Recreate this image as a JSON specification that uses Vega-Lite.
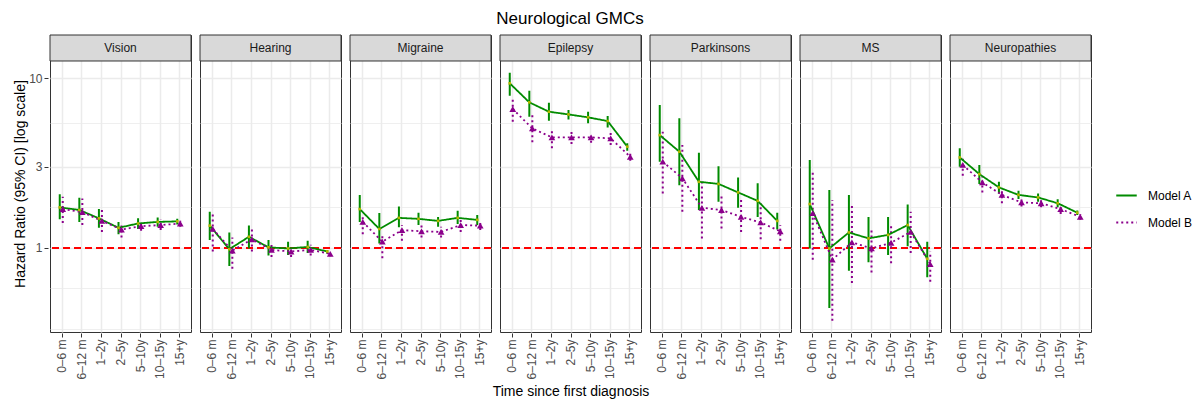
{
  "$schema": "https://vega.github.io/schema/vega-lite/v6.json",
  "padding": {"left": 13, "top": 10, "right": 5, "bottom": 3},
  "title": {"text": "Neurological GMCs", "fontSize": 17, "fontWeight": "normal", "color": "#000000", "anchor": "start", "frame": "group", "align": "center", "dx": 520, "offset": 6},
  "data": {"name": "hr"},
  "datasets": {
    "hr": [
      {"panel": "Vision", "time": "0–6 m", "t": 1, "model": "Model A", "hr": 1.73, "lo": 1.47, "hi": 2.07},
      {"panel": "Vision", "time": "6–12 m", "t": 2, "model": "Model A", "hr": 1.67, "lo": 1.42, "hi": 1.97},
      {"panel": "Vision", "time": "1–2y", "t": 3, "model": "Model A", "hr": 1.49, "lo": 1.31, "hi": 1.69},
      {"panel": "Vision", "time": "2–5y", "t": 4, "model": "Model A", "hr": 1.31, "lo": 1.2, "hi": 1.42},
      {"panel": "Vision", "time": "5–10y", "t": 5, "model": "Model A", "hr": 1.39, "lo": 1.29, "hi": 1.49},
      {"panel": "Vision", "time": "10–15y", "t": 6, "model": "Model A", "hr": 1.42, "lo": 1.33, "hi": 1.51},
      {"panel": "Vision", "time": "15+y", "t": 7, "model": "Model A", "hr": 1.43, "lo": 1.37, "hi": 1.48},
      {"panel": "Vision", "time": "0–6 m", "t": 1, "model": "Model B", "hr": 1.69, "lo": 1.4, "hi": 2.0},
      {"panel": "Vision", "time": "6–12 m", "t": 2, "model": "Model B", "hr": 1.62, "lo": 1.36, "hi": 1.95},
      {"panel": "Vision", "time": "1–2y", "t": 3, "model": "Model B", "hr": 1.44, "lo": 1.24, "hi": 1.67},
      {"panel": "Vision", "time": "2–5y", "t": 4, "model": "Model B", "hr": 1.28, "lo": 1.15, "hi": 1.4},
      {"panel": "Vision", "time": "5–10y", "t": 5, "model": "Model B", "hr": 1.34, "lo": 1.26, "hi": 1.42},
      {"panel": "Vision", "time": "10–15y", "t": 6, "model": "Model B", "hr": 1.36, "lo": 1.27, "hi": 1.46},
      {"panel": "Vision", "time": "15+y", "t": 7, "model": "Model B", "hr": 1.39, "lo": 1.33, "hi": 1.44},

      {"panel": "Hearing", "time": "0–6 m", "t": 1, "model": "Model A", "hr": 1.35, "lo": 1.11, "hi": 1.63},
      {"panel": "Hearing", "time": "6–12 m", "t": 2, "model": "Model A", "hr": 0.98, "lo": 0.78, "hi": 1.23},
      {"panel": "Hearing", "time": "1–2y", "t": 3, "model": "Model A", "hr": 1.16, "lo": 0.99, "hi": 1.35},
      {"panel": "Hearing", "time": "2–5y", "t": 4, "model": "Model A", "hr": 1.005, "lo": 0.9, "hi": 1.11},
      {"panel": "Hearing", "time": "5–10y", "t": 5, "model": "Model A", "hr": 0.99, "lo": 0.905, "hi": 1.085},
      {"panel": "Hearing", "time": "10–15y", "t": 6, "model": "Model A", "hr": 1.01, "lo": 0.93, "hi": 1.1},
      {"panel": "Hearing", "time": "15+y", "t": 7, "model": "Model A", "hr": 0.95, "lo": 0.92, "hi": 0.97},
      {"panel": "Hearing", "time": "0–6 m", "t": 1, "model": "Model B", "hr": 1.29, "lo": 0.95, "hi": 1.61},
      {"panel": "Hearing", "time": "6–12 m", "t": 2, "model": "Model B", "hr": 0.96, "lo": 0.75, "hi": 1.15},
      {"panel": "Hearing", "time": "1–2y", "t": 3, "model": "Model B", "hr": 1.12, "lo": 0.95, "hi": 1.29},
      {"panel": "Hearing", "time": "2–5y", "t": 4, "model": "Model B", "hr": 0.97, "lo": 0.88, "hi": 1.04},
      {"panel": "Hearing", "time": "5–10y", "t": 5, "model": "Model B", "hr": 0.95, "lo": 0.88, "hi": 1.01},
      {"panel": "Hearing", "time": "10–15y", "t": 6, "model": "Model B", "hr": 0.97, "lo": 0.9, "hi": 1.04},
      {"panel": "Hearing", "time": "15+y", "t": 7, "model": "Model B", "hr": 0.92, "lo": 0.89, "hi": 0.95},

      {"panel": "Migraine", "time": "0–6 m", "t": 1, "model": "Model A", "hr": 1.69, "lo": 1.42, "hi": 2.05},
      {"panel": "Migraine", "time": "6–12 m", "t": 2, "model": "Model A", "hr": 1.29, "lo": 1.06, "hi": 1.6},
      {"panel": "Migraine", "time": "1–2y", "t": 3, "model": "Model A", "hr": 1.5, "lo": 1.32, "hi": 1.75},
      {"panel": "Migraine", "time": "2–5y", "t": 4, "model": "Model A", "hr": 1.48, "lo": 1.36, "hi": 1.61},
      {"panel": "Migraine", "time": "5–10y", "t": 5, "model": "Model A", "hr": 1.44, "lo": 1.33, "hi": 1.52},
      {"panel": "Migraine", "time": "10–15y", "t": 6, "model": "Model A", "hr": 1.5, "lo": 1.38, "hi": 1.65},
      {"panel": "Migraine", "time": "15+y", "t": 7, "model": "Model A", "hr": 1.46, "lo": 1.36, "hi": 1.56},
      {"panel": "Migraine", "time": "0–6 m", "t": 1, "model": "Model B", "hr": 1.42, "lo": 1.2, "hi": 1.55},
      {"panel": "Migraine", "time": "6–12 m", "t": 2, "model": "Model B", "hr": 1.085, "lo": 0.865, "hi": 1.18},
      {"panel": "Migraine", "time": "1–2y", "t": 3, "model": "Model B", "hr": 1.27, "lo": 1.1, "hi": 1.36},
      {"panel": "Migraine", "time": "2–5y", "t": 4, "model": "Model B", "hr": 1.25, "lo": 1.15, "hi": 1.36},
      {"panel": "Migraine", "time": "5–10y", "t": 5, "model": "Model B", "hr": 1.24, "lo": 1.15, "hi": 1.33},
      {"panel": "Migraine", "time": "10–15y", "t": 6, "model": "Model B", "hr": 1.36, "lo": 1.24, "hi": 1.46},
      {"panel": "Migraine", "time": "15+y", "t": 7, "model": "Model B", "hr": 1.35, "lo": 1.27, "hi": 1.42},

      {"panel": "Epilepsy", "time": "0–6 m", "t": 1, "model": "Model A", "hr": 9.34, "lo": 7.89, "hi": 10.79},
      {"panel": "Epilepsy", "time": "6–12 m", "t": 2, "model": "Model A", "hr": 7.21, "lo": 5.93, "hi": 8.45},
      {"panel": "Epilepsy", "time": "1–2y", "t": 3, "model": "Model A", "hr": 6.35, "lo": 5.62, "hi": 7.18},
      {"panel": "Epilepsy", "time": "2–5y", "t": 4, "model": "Model A", "hr": 6.12, "lo": 5.72, "hi": 6.5},
      {"panel": "Epilepsy", "time": "5–10y", "t": 5, "model": "Model A", "hr": 5.88, "lo": 5.42, "hi": 6.35},
      {"panel": "Epilepsy", "time": "10–15y", "t": 6, "model": "Model A", "hr": 5.59, "lo": 5.13, "hi": 5.99},
      {"panel": "Epilepsy", "time": "15+y", "t": 7, "model": "Model A", "hr": 3.95, "lo": 3.74, "hi": 4.13},
      {"panel": "Epilepsy", "time": "0–6 m", "t": 1, "model": "Model B", "hr": 6.59, "lo": 5.54, "hi": 7.61},
      {"panel": "Epilepsy", "time": "6–12 m", "t": 2, "model": "Model B", "hr": 5.06, "lo": 4.19, "hi": 6.07},
      {"panel": "Epilepsy", "time": "1–2y", "t": 3, "model": "Model B", "hr": 4.48, "lo": 3.86, "hi": 5.06},
      {"panel": "Epilepsy", "time": "2–5y", "t": 4, "model": "Model B", "hr": 4.48, "lo": 4.09, "hi": 4.84},
      {"panel": "Epilepsy", "time": "5–10y", "t": 5, "model": "Model B", "hr": 4.48, "lo": 4.17, "hi": 4.77},
      {"panel": "Epilepsy", "time": "10–15y", "t": 6, "model": "Model B", "hr": 4.42, "lo": 4.04, "hi": 4.77},
      {"panel": "Epilepsy", "time": "15+y", "t": 7, "model": "Model B", "hr": 3.44, "lo": 3.26, "hi": 3.64},

      {"panel": "Parkinsons", "time": "0–6 m", "t": 1, "model": "Model A", "hr": 4.62, "lo": 3.22, "hi": 6.95},
      {"panel": "Parkinsons", "time": "6–12 m", "t": 2, "model": "Model A", "hr": 3.69, "lo": 2.34, "hi": 5.8},
      {"panel": "Parkinsons", "time": "1–2y", "t": 3, "model": "Model A", "hr": 2.45, "lo": 1.67, "hi": 3.64},
      {"panel": "Parkinsons", "time": "2–5y", "t": 4, "model": "Model A", "hr": 2.38, "lo": 1.87, "hi": 3.03},
      {"panel": "Parkinsons", "time": "5–10y", "t": 5, "model": "Model A", "hr": 2.12, "lo": 1.72, "hi": 2.6},
      {"panel": "Parkinsons", "time": "10–15y", "t": 6, "model": "Model A", "hr": 1.89, "lo": 1.52, "hi": 2.4},
      {"panel": "Parkinsons", "time": "15+y", "t": 7, "model": "Model A", "hr": 1.44, "lo": 1.28, "hi": 1.61},
      {"panel": "Parkinsons", "time": "0–6 m", "t": 1, "model": "Model B", "hr": 3.22, "lo": 2.09, "hi": 4.84},
      {"panel": "Parkinsons", "time": "6–12 m", "t": 2, "model": "Model B", "hr": 2.57, "lo": 1.63, "hi": 4.04},
      {"panel": "Parkinsons", "time": "1–2y", "t": 3, "model": "Model B", "hr": 1.72, "lo": 1.135, "hi": 2.45},
      {"panel": "Parkinsons", "time": "2–5y", "t": 4, "model": "Model B", "hr": 1.67, "lo": 1.3, "hi": 2.09},
      {"panel": "Parkinsons", "time": "5–10y", "t": 5, "model": "Model B", "hr": 1.52, "lo": 1.24, "hi": 1.91},
      {"panel": "Parkinsons", "time": "10–15y", "t": 6, "model": "Model B", "hr": 1.41, "lo": 1.12, "hi": 1.83},
      {"panel": "Parkinsons", "time": "15+y", "t": 7, "model": "Model B", "hr": 1.25, "lo": 1.1, "hi": 1.36},

      {"panel": "MS", "time": "0–6 m", "t": 1, "model": "Model A", "hr": 1.81, "lo": 0.99, "hi": 3.29},
      {"panel": "MS", "time": "6–12 m", "t": 2, "model": "Model A", "hr": 0.99, "lo": 0.44, "hi": 2.19},
      {"panel": "MS", "time": "1–2y", "t": 3, "model": "Model A", "hr": 1.23, "lo": 0.73, "hi": 2.05},
      {"panel": "MS", "time": "2–5y", "t": 4, "model": "Model A", "hr": 1.135, "lo": 0.82, "hi": 1.52},
      {"panel": "MS", "time": "5–10y", "t": 5, "model": "Model A", "hr": 1.19, "lo": 0.905, "hi": 1.52},
      {"panel": "MS", "time": "10–15y", "t": 6, "model": "Model A", "hr": 1.36, "lo": 1.02, "hi": 1.8},
      {"panel": "MS", "time": "15+y", "t": 7, "model": "Model A", "hr": 0.86, "lo": 0.67, "hi": 1.085},
      {"panel": "MS", "time": "0–6 m", "t": 1, "model": "Model B", "hr": 1.6, "lo": 0.85, "hi": 2.87},
      {"panel": "MS", "time": "6–12 m", "t": 2, "model": "Model B", "hr": 0.85, "lo": 0.37, "hi": 1.91},
      {"panel": "MS", "time": "1–2y", "t": 3, "model": "Model B", "hr": 1.075, "lo": 0.62, "hi": 1.79},
      {"panel": "MS", "time": "2–5y", "t": 4, "model": "Model B", "hr": 0.99, "lo": 0.715, "hi": 1.27},
      {"panel": "MS", "time": "5–10y", "t": 5, "model": "Model B", "hr": 1.07, "lo": 0.81, "hi": 1.36},
      {"panel": "MS", "time": "10–15y", "t": 6, "model": "Model B", "hr": 1.24, "lo": 0.93, "hi": 1.63},
      {"panel": "MS", "time": "15+y", "t": 7, "model": "Model B", "hr": 0.8, "lo": 0.63, "hi": 0.95},

      {"panel": "Neuropathies", "time": "0–6 m", "t": 1, "model": "Model A", "hr": 3.41, "lo": 3.01, "hi": 3.86},
      {"panel": "Neuropathies", "time": "6–12 m", "t": 2, "model": "Model A", "hr": 2.72, "lo": 2.38, "hi": 3.08},
      {"panel": "Neuropathies", "time": "1–2y", "t": 3, "model": "Model A", "hr": 2.27, "lo": 2.09, "hi": 2.45},
      {"panel": "Neuropathies", "time": "2–5y", "t": 4, "model": "Model A", "hr": 2.05, "lo": 1.94, "hi": 2.17},
      {"panel": "Neuropathies", "time": "5–10y", "t": 5, "model": "Model A", "hr": 1.98, "lo": 1.87, "hi": 2.09},
      {"panel": "Neuropathies", "time": "10–15y", "t": 6, "model": "Model A", "hr": 1.83, "lo": 1.73, "hi": 1.93},
      {"panel": "Neuropathies", "time": "15+y", "t": 7, "model": "Model A", "hr": 1.61, "lo": 1.56, "hi": 1.66},
      {"panel": "Neuropathies", "time": "0–6 m", "t": 1, "model": "Model B", "hr": 3.08, "lo": 2.66, "hi": 3.37},
      {"panel": "Neuropathies", "time": "6–12 m", "t": 2, "model": "Model B", "hr": 2.43, "lo": 2.12, "hi": 2.63},
      {"panel": "Neuropathies", "time": "1–2y", "t": 3, "model": "Model B", "hr": 2.05, "lo": 1.83, "hi": 2.19},
      {"panel": "Neuropathies", "time": "2–5y", "t": 4, "model": "Model B", "hr": 1.85, "lo": 1.75, "hi": 1.955},
      {"panel": "Neuropathies", "time": "5–10y", "t": 5, "model": "Model B", "hr": 1.83, "lo": 1.73, "hi": 1.91},
      {"panel": "Neuropathies", "time": "10–15y", "t": 6, "model": "Model B", "hr": 1.69, "lo": 1.58, "hi": 1.79},
      {"panel": "Neuropathies", "time": "15+y", "t": 7, "model": "Model B", "hr": 1.52, "lo": 1.46, "hi": 1.58}
    ]
  },
  "facet": {
    "column": {"field": "panel", "type": "nominal", "title": "Time since first diagnosis",
      "header": {"labels": false, "titleOrient": "bottom", "titleFontSize": 14, "titleFontWeight": "normal", "titleColor": "#000000", "titlePadding": -5},
      "sort": ["Vision", "Hearing", "Migraine", "Epilepsy", "Parkinsons", "MS", "Neuropathies"]}
  },
  "spacing": 5,
  "spec": {
    "width": 141,
    "height": 297,
    "view": {"stroke": "#333333", "strokeWidth": 1},
    "layer": [
      {
        "transform": [{"aggregate": [{"op": "count", "as": "n"}], "groupby": ["panel"]}],
        "mark": {"type": "rect", "fill": "#D9D9D9", "stroke": "#333333", "strokeWidth": 1},
        "encoding": {
          "y": {"datum": 12.65, "type": "quantitative", "scale": {"type": "log", "domain": [0.318, 18.01], "nice": false}},
          "y2": {"datum": 18.01}
        }
      },
      {
        "transform": [{"aggregate": [{"op": "count", "as": "n"}], "groupby": ["panel"]}],
        "mark": {"type": "text", "fontSize": 12, "color": "#1A1A1A", "baseline": "middle"},
        "encoding": {
          "y": {"datum": 15.1, "type": "quantitative", "scale": {"type": "log", "domain": [0.318, 18.01], "nice": false}},
          "text": {"field": "panel", "type": "nominal"}
        }
      },
      {
        "mark": {"type": "rule", "color": "#FF0000", "strokeDash": [7, 4], "strokeWidth": 1.6},
        "encoding": {
          "y": {"datum": 1, "type": "quantitative", "scale": {"type": "log", "domain": [0.318, 18.01], "nice": false}}
        }
      },
      {
        "encoding": {
          "x": {
            "field": "time", "type": "ordinal",
            "sort": ["0–6 m", "6–12 m", "1–2y", "2–5y", "5–10y", "10–15y", "15+y"],
            "scale": {"type": "point", "padding": 0.6},
            "title": null,
            "axis": {"grid": true}
          },
          "xOffset": {"field": "model", "type": "nominal", "scale": {"type": "point", "domain": ["Model A", "Model B"], "range": [-2, 1], "padding": 0}},
          "y": {
            "field": "hr", "type": "quantitative",
            "scale": {"type": "log", "domain": [0.318, 18.01], "nice": false},
            "title": "Hazard Ratio (95% CI) [log scale]",
            "axis": {
              "grid": true,
              "values": [0.3333, 0.5774, 1, 1.7321, 3, 5.4772, 10],
              "labelExpr": "(datum.value == 1 || datum.value == 3 || datum.value == 10) ? datum.label : ''",
              "tickOpacity": {"condition": {"test": "datum.value == 1 || datum.value == 3 || datum.value == 10", "value": 1}, "value": 0},
              "gridWidth": {"condition": {"test": "datum.value == 1 || datum.value == 3 || datum.value == 10", "value": 1.5}, "value": 0.8}
            }
          }
        },
        "layer": [
          {
            "mark": {"type": "rule", "strokeWidth": 2},
            "encoding": {
              "y": {"field": "lo", "type": "quantitative", "scale": {"type": "log", "domain": [0.318, 18.01], "nice": false}, "title": "Hazard Ratio (95% CI) [log scale]"},
              "y2": {"field": "hi"},
              "color": {
                "field": "model", "type": "nominal",
                "scale": {"domain": ["Model A", "Model B"], "range": ["#008B00", "#8B008B"]},
                "legend": {"title": null, "orient": "none", "legendX": 1065, "legendY": 149, "symbolType": "stroke", "symbolSize": 420, "symbolStrokeWidth": 2, "labelFontSize": 12, "labelColor": "#000000", "labelOffset": 10, "rowPadding": 9, "padding": 0}
              },
              "strokeDash": {
                "field": "model", "type": "nominal",
                "scale": {"domain": ["Model A", "Model B"], "range": [[1, 0], [2, 3]]},
                "legend": {"title": null, "orient": "none", "legendX": 1065, "legendY": 149, "symbolType": "stroke", "symbolSize": 420, "symbolStrokeWidth": 2, "labelFontSize": 12, "labelColor": "#000000", "labelOffset": 10, "rowPadding": 9, "padding": 0}
              }
            }
          },
          {
            "mark": {"type": "line", "strokeWidth": 1.8},
            "encoding": {
              "order": {"field": "t", "type": "quantitative"},
              "color": {
                "field": "model", "type": "nominal",
                "scale": {"domain": ["Model A", "Model B"], "range": ["#008B00", "#8B008B"]},
                "legend": {"title": null, "orient": "none", "legendX": 1065, "legendY": 149, "symbolType": "stroke", "symbolSize": 420, "symbolStrokeWidth": 2, "labelFontSize": 12, "labelColor": "#000000", "labelOffset": 10, "rowPadding": 9, "padding": 0}
              },
              "strokeDash": {
                "field": "model", "type": "nominal",
                "scale": {"domain": ["Model A", "Model B"], "range": [[1, 0], [2, 3]]},
                "legend": {"title": null, "orient": "none", "legendX": 1065, "legendY": 149, "symbolType": "stroke", "symbolSize": 420, "symbolStrokeWidth": 2, "labelFontSize": 12, "labelColor": "#000000", "labelOffset": 10, "rowPadding": 9, "padding": 0}
              }
            }
          },
          {
            "transform": [{"filter": "datum.model == 'Model A'"}],
            "mark": {"type": "point", "shape": "square", "filled": true, "size": 7, "color": "#B5B800", "opacity": 1}
          },
          {
            "transform": [{"filter": "datum.model == 'Model B'"}],
            "mark": {"type": "point", "shape": "triangle-up", "filled": true, "size": 45, "color": "#8B008B", "opacity": 1}
          }
        ]
      }
    ]
  },
  "config": {
    "font": "Liberation Sans",
    "axis": {
      "domain": false, "labelColor": "#4D4D4D", "labelFontSize": 12, "tickColor": "#333333", "tickSize": 4, "tickWidth": 1,
      "gridColor": "#EBEBEB", "titleFontWeight": "normal", "titleFontSize": 14, "titleColor": "#000000"
    },
    "axisX": {"labelAngle": -90, "labelPadding": 2, "gridWidth": 1.5},
    "axisY": {"labelPadding": 2, "titlePadding": 1}
  }
}
